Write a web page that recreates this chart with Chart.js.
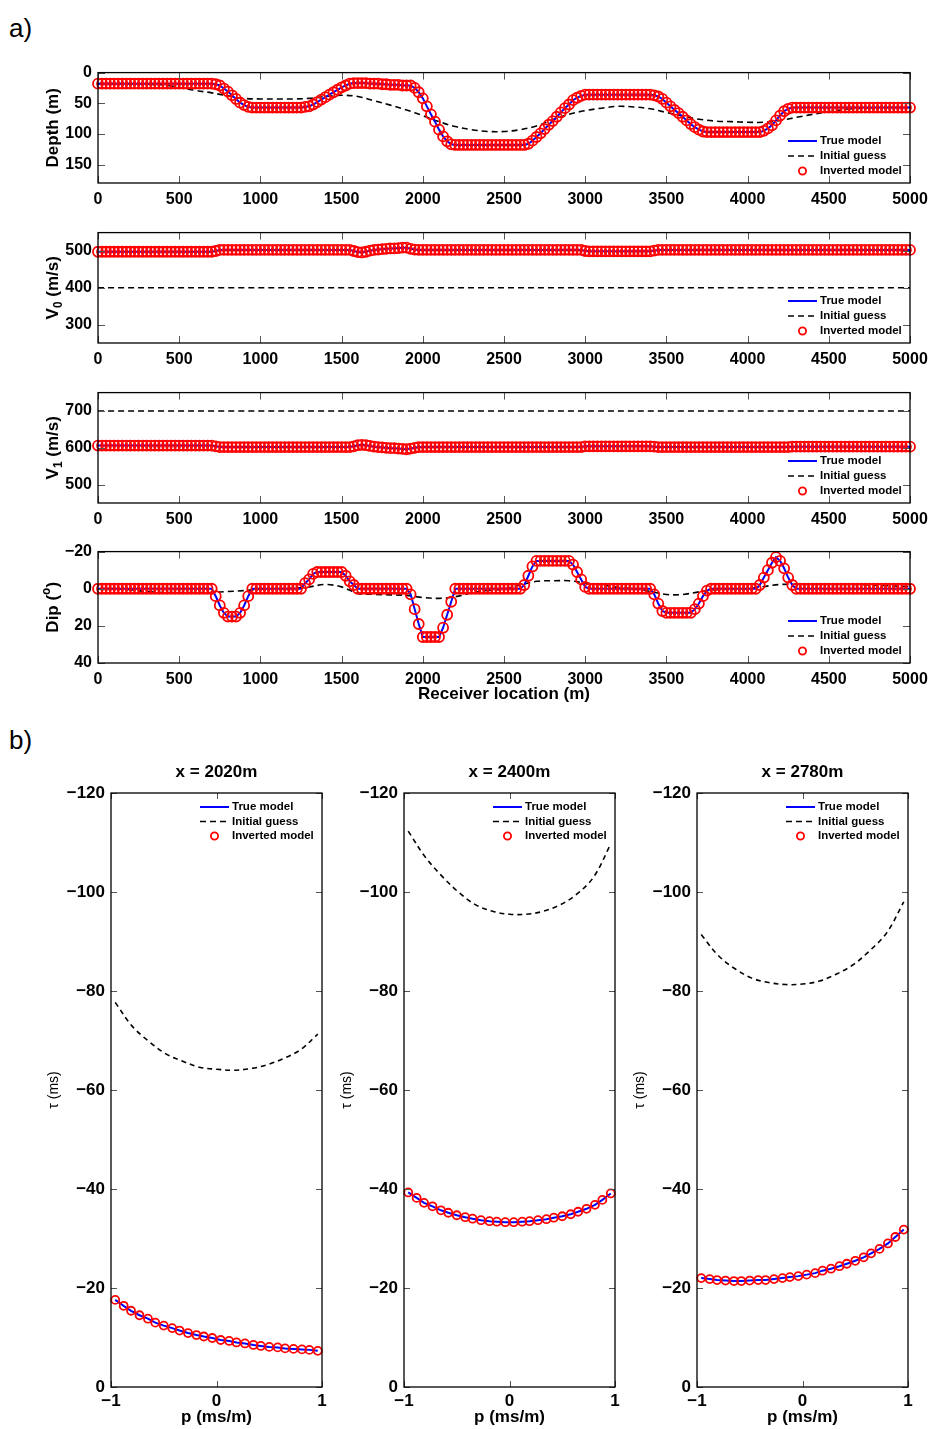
<!DOCTYPE html>
<html>
<head>
<meta charset="utf-8">
<title>Inversion results</title>
<script src="https://cdn.jsdelivr.net/npm/chart.js@4.4.0/dist/chart.umd.min.js"></script>
<style>
  body { margin: 0; background: #fff; }
  #figure { position: relative; width: 932px; height: 1429px; font-family: 'Liberation Sans', Arial, sans-serif; }
  #figure canvas { position: absolute; }
  .tag { position: absolute; font-size: 26px; line-height: 26px; color: #000; }
</style>
</head>
<body>
<div id="figure">
  <div class="tag" style="left:9px;top:15px">a)</div>
  <div class="tag" style="left:9px;top:727px">b)</div>
  <canvas id="depthChart" width="932" height="156" style="left:0;top:57px"></canvas>
  <canvas id="v0Chart" width="932" height="156" style="left:0;top:217px"></canvas>
  <canvas id="v1Chart" width="932" height="156" style="left:0;top:377px"></canvas>
  <canvas id="dipChart" width="932" height="172" style="left:0;top:536px"></canvas>
  <canvas id="tauChart1" width="293" height="671" style="left:41px;top:758px"></canvas>
  <canvas id="tauChart2" width="293" height="671" style="left:334px;top:758px"></canvas>
  <canvas id="tauChart3" width="293" height="671" style="left:627px;top:758px"></canvas>
</div>
<script>
// =========================
// PROFILE DATA (receivers every 25 m)
// =========================

const receivers = [
  0,25,50,75,100,125,150,175,200,225,250,275,300,325,350,375,400,425,450,475,
  500,525,550,575,600,625,650,675,700,725,750,775,800,825,850,875,900,925,950,975,
  1000,1025,1050,1075,1100,1125,1150,1175,1200,1225,1250,1275,1300,1325,1350,1375,1400,1425,1450,1475,
  1500,1525,1550,1575,1600,1625,1650,1675,1700,1725,1750,1775,1800,1825,1850,1875,1900,1925,1950,1975,
  2000,2025,2050,2075,2100,2125,2150,2175,2200,2225,2250,2275,2300,2325,2350,2375,2400,2425,2450,2475,
  2500,2525,2550,2575,2600,2625,2650,2675,2700,2725,2750,2775,2800,2825,2850,2875,2900,2925,2950,2975,
  3000,3025,3050,3075,3100,3125,3150,3175,3200,3225,3250,3275,3300,3325,3350,3375,3400,3425,3450,3475,
  3500,3525,3550,3575,3600,3625,3650,3675,3700,3725,3750,3775,3800,3825,3850,3875,3900,3925,3950,3975,
  4000,4025,4050,4075,4100,4125,4150,4175,4200,4225,4250,4275,4300,4325,4350,4375,4400,4425,4450,4475,
  4500,4525,4550,4575,4600,4625,4650,4675,4700,4725,4750,4775,4800,4825,4850,4875,4900,4925,4950,4975,
  5000
];

// depth of the layer (m)
const depthModel = [
  18,18,18,18,18,18,18,18,18,18,18,18,18,18,18,18,18,18,18,18,
  18,18,18,18,18,18,18,18,18,19,21,26,31,37,43,49,53,56,57,57,
  57,57,57,57,57,57,57,57,57,57,57,56,55,52,48,44,40,36,32,28,
  24,21,18,17,17,17,17,18,18,18,19,19,20,20,20,21,21,21,25,32,
  42,55,68,80,93,104,112,117,118,118,118,118,118,118,118,118,118,118,118,118,
  118,118,118,118,118,118,116,111,105,99,92,85,79,72,65,58,52,45,41,38,
  36,36,36,36,36,36,36,36,36,36,36,36,36,36,36,36,36,37,39,43,
  49,55,61,66,72,78,84,89,93,96,97,97,97,97,97,97,97,97,97,97,
  97,97,97,97,95,91,86,78,70,63,59,57,57,57,57,57,57,57,57,57,
  57,57,57,57,57,57,57,57,57,57,57,57,57,57,57,57,57,57,57,57,
  57
];

// V0 (m/s)
const v0Model = [
  498,498,498,498,498,498,498,498,498,498,498,498,498,498,498,498,498,498,498,498,
  498,498,498,498,498,498,498,498,498,500,503,503,503,503,503,503,503,503,503,503,
  503,503,503,503,503,503,503,503,503,503,503,503,503,503,503,503,503,503,503,503,
  503,503,503,500,497,496,498,501,503,504,505,506,507,507,508,509,509,506,504,503,
  503,503,503,503,503,503,503,503,503,503,503,503,503,503,503,503,503,503,503,503,
  503,503,503,503,503,503,503,503,503,503,503,503,503,503,503,503,503,503,503,503,
  500,499,499,499,499,499,499,499,499,499,499,499,499,499,499,499,499,501,503,503,
  503,503,503,503,503,503,503,503,503,503,503,503,503,503,503,503,503,503,503,503,
  503,503,503,503,503,503,503,503,503,503,503,503,503,503,503,503,503,503,503,503,
  503,503,503,503,503,503,503,503,503,503,503,503,503,503,503,503,503,503,503,503,
  503
];

// V1 (m/s)
const v1Model = [
  606,606,606,606,606,606,606,606,606,606,606,606,606,606,606,606,606,606,606,606,
  606,606,606,606,606,606,606,606,606,604,602,602,602,602,602,602,602,602,602,602,
  602,602,602,602,602,602,602,602,602,602,602,602,602,602,602,602,602,602,602,602,
  602,602,602,604,607,608,607,605,603,602,601,600,599,599,598,597,596,598,600,602,
  602,602,602,602,602,602,602,602,602,602,602,602,602,602,602,602,602,602,602,602,
  602,602,602,602,602,602,602,602,602,602,602,602,602,602,602,602,602,602,602,602,
  604,604,604,604,604,604,604,604,604,604,604,604,604,604,604,604,604,603,602,602,
  602,602,602,602,602,602,602,602,602,602,602,602,602,602,602,602,602,602,602,602,
  602,602,602,602,602,602,602,602,602,602,602,603,603,603,603,603,603,603,603,603,
  603,603,603,603,603,603,603,603,603,603,603,603,603,603,603,603,603,603,603,603,
  603
];

// dip (degrees)
const dipModel = [
  0,0,0,0,0,0,0,0,0,0,0,0,0,0,0,0,0,0,0,0,
  0,0,0,0,0,0,0,0,0,4,9,13,15,15,15,13,9,4,0,0,
  0,0,0,0,0,0,0,0,0,0,0,-3,-5,-8,-9,-9,-9,-9,-9,-9,
  -9,-7,-4,-2,0,0,0,0,0,0,0,0,0,0,0,0,0,3,11,19,
  26,26,26,26,26,21,14,7,0,0,0,0,0,0,0,0,0,0,0,0,
  0,0,0,0,0,-2,-7,-12,-15,-15,-15,-15,-15,-15,-15,-15,-15,-13,-9,-5,
  -1,0,0,0,0,0,0,0,0,0,0,0,0,0,0,0,0,3,8,12,
  13,13,13,13,13,13,13,11,8,4,1,0,0,0,0,0,0,0,0,0,
  0,0,0,-2,-6,-10,-14,-17,-15,-11,-6,-2,0,0,0,0,0,0,0,0,
  0,0,0,0,0,0,0,0,0,0,0,0,0,0,0,0,0,0,0,0,
  0
];

// starting model, sampled every 100 m
const guessX = [
  0,100,200,300,400,500,600,700,800,900,
  1000,1100,1200,1300,1400,1500,1600,1700,1800,1900,
  2000,2100,2200,2300,2400,2500,2600,2700,2800,2900,
  3000,3100,3200,3300,3400,3500,3600,3700,3800,3900,
  4000,4100,4200,4300,4400,4500,4600,4700,4800,4900,
  5000
];

const depthGuess = [
  18,18,18,19,20,24,29,33,38,42,
  43,43,43,42,39,37,39,46,53,61,
  70,80,88,93,96,96,93,87,77,68,
  62,58,55,56,59,65,71,76,79,80,
  81,81,78,73,68,64,60,58,57,57,
  57
];

const dipGuess = [
  0,0,0.5,1.5,2,2,2,2,1.5,1,
  0.3,0,-0.3,-1,-2.3,-1,2.5,3,3.3,3.6,
  4.7,5.2,4.3,2.3,0.9,0.2,-2,-4,-4.3,-4.3,
  -3.1,-2.1,-0.7,0,1.4,3.1,3.1,1.7,0.5,0,
  0,-1.2,-2.3,-2.4,-2.3,-2.3,-2.3,-2.2,-1.8,-1.5,
  -1.2
];

const constGuessX = [0, 5000];
const v0Guess = [400, 400];
const v1Guess = [700, 700];

const receiverTicks = [0,500,1000,1500,2000,2500,3000,3500,4000,4500,5000];
const depthTicks = [0,50,100,150];
const v0Ticks = [300,400,500];
const v1Ticks = [500,600,700];
const dipTicks = [-20,0,20,40];

// =========================
// TAU-P DATA
// =========================

const slowness = [
  -0.96,-0.88,-0.81,-0.73,-0.65,-0.58,-0.50,-0.42,-0.35,-0.27,-0.19,-0.12,-0.04,
  0.04,0.12,0.19,0.27,0.35,0.42,0.50,0.58,0.65,0.73,0.81,0.88,0.96
];

const tau2020 = [
  -17.6,-16.4,-15.4,-14.5,-13.8,-13.0,-12.4,-11.9,-11.4,-10.9,-10.5,-10.2,-9.9,
  -9.5,-9.3,-9.0,-8.8,-8.5,-8.3,-8.1,-8.0,-7.8,-7.7,-7.6,-7.5,-7.3
];
const tau2400 = [
  -39.3,-38.2,-37.2,-36.5,-35.7,-35.2,-34.7,-34.3,-34.0,-33.7,-33.5,-33.4,-33.3,
  -33.3,-33.4,-33.5,-33.7,-33.9,-34.2,-34.5,-34.9,-35.4,-36.0,-36.8,-37.8,-39.1
];
const tau2780 = [
  -22.0,-21.8,-21.6,-21.5,-21.4,-21.4,-21.5,-21.6,-21.6,-21.8,-22.0,-22.2,-22.4,
  -22.7,-23.0,-23.5,-23.9,-24.4,-24.9,-25.5,-26.2,-27.0,-27.9,-29.0,-30.3,-31.8
];

const slownessGuess = [-0.96,-0.8,-0.64,-0.48,-0.32,-0.16,0,0.16,0.32,0.48,0.64,0.8,0.96];
const guess2020 = [-77.7,-72.9,-69.8,-67.3,-65.8,-64.6,-64.2,-64.0,-64.3,-65.1,-66.4,-68.2,-71.3];
const guess2400 = [-112.3,-107.1,-103.2,-99.9,-97.4,-96.1,-95.5,-95.5,-96.1,-97.4,-99.6,-103.1,-109.7];
const guess2780 = [-91.4,-87.2,-84.5,-82.6,-81.7,-81.3,-81.4,-82.0,-83.4,-85.3,-88.2,-91.8,-98.0];

const slownessTicks = [-1,0,1];
const tauTicks = [-120,-100,-80,-60,-40,-20,0];

const legendLabels = ['True model', 'Initial guess', 'Inverted model'];

// =========================
// HELPERS
// =========================

const FONT = "'Liberation Sans', Arial, Helvetica, sans-serif";

const pairs = (xs, ys) => xs.map((x, i) => ({ x: x, y: ys[i] }));

const minus = v => (v < 0 ? '\u2212' + Math.abs(v) : String(v));

// text made of pieces, some of them sub- or superscript
function drawParts(ctx, parts, size, weight) {
    let total = 0;
    parts.forEach(p => {
        p.size = (p.sub || p.sup) ? size * 0.7 : size;
        ctx.font = weight + ' ' + p.size + 'px ' + FONT;
        p.w = ctx.measureText(p.t).width;
        total += p.w;
    });
    let x = -total / 2;
    parts.forEach(p => {
        ctx.font = weight + ' ' + p.size + 'px ' + FONT;
        const dy = p.sub ? size * 0.32 : (p.sup ? -size * 0.38 : 0);
        ctx.fillText(p.t, x, dy);
        x += p.w;
    });
}

// =========================
// FRAME / LABELS / LEGEND PLUGIN
// =========================

const framePlugin = {
    id: 'frame',
    afterDraw(chart, args, opts) {
        const { ctx, chartArea: a } = chart;
        const sx = chart.scales.x;
        const sy = chart.scales.y;

        ctx.save();

        // tick marks pointing inside, on all four sides
        ctx.strokeStyle = '#555';
        ctx.lineWidth = 1;
        ctx.beginPath();
        sx.ticks.forEach(t => {
            const px = Math.round(sx.getPixelForValue(t.value)) + 0.5;
            ctx.moveTo(px, a.bottom); ctx.lineTo(px, a.bottom - opts.tickLen);
            ctx.moveTo(px, a.top); ctx.lineTo(px, a.top + opts.tickLen);
        });
        sy.ticks.forEach(t => {
            const py = Math.round(sy.getPixelForValue(t.value)) + 0.5;
            ctx.moveTo(a.left, py); ctx.lineTo(a.left + opts.tickLen, py);
            ctx.moveTo(a.right, py); ctx.lineTo(a.right - opts.tickLen, py);
        });
        ctx.stroke();

        // box
        ctx.strokeStyle = '#000';
        ctx.lineWidth = 1.3;
        ctx.strokeRect(a.left, a.top, a.right - a.left, a.bottom - a.top);

        ctx.fillStyle = '#000';
        ctx.textBaseline = 'middle';

        // y title, rotated
        if (opts.yTitle) {
            ctx.save();
            ctx.translate(a.left + opts.yTitleDx, (a.top + a.bottom) / 2);
            ctx.rotate(-Math.PI / 2);
            ctx.textAlign = 'left';
            drawParts(ctx, opts.yTitle, opts.yTitleSize, opts.yTitleWeight);
            ctx.restore();
        }

        ctx.textAlign = 'center';

        if (opts.xTitle) {
            ctx.font = 'bold ' + opts.xTitleSize + 'px ' + FONT;
            ctx.fillText(opts.xTitle, (a.left + a.right) / 2, a.bottom + opts.xTitleDy);
        }

        if (opts.title) {
            ctx.font = 'bold 17px ' + FONT;
            ctx.fillText(opts.title, (a.left + a.right) / 2, a.top + opts.titleDy);
        }

        // legend
        const L = opts.legend;
        const x0 = L.fromRight ? a.right - L.dx : a.left + L.dx;
        const y0 = L.fromBottom ? a.bottom - L.dy : a.top + L.dy;

        ctx.lineWidth = 2;
        ctx.strokeStyle = '#0000ff';
        ctx.beginPath();
        ctx.moveTo(x0, y0); ctx.lineTo(x0 + 29, y0);
        ctx.stroke();

        ctx.lineWidth = 1.6;
        ctx.strokeStyle = '#000';
        ctx.setLineDash([6, 4]);
        ctx.beginPath();
        ctx.moveTo(x0, y0 + L.step); ctx.lineTo(x0 + 29, y0 + L.step);
        ctx.stroke();
        ctx.setLineDash([]);

        ctx.lineWidth = 1.8;
        ctx.strokeStyle = '#ff0000';
        ctx.beginPath();
        ctx.arc(x0 + 14.5, y0 + 2 * L.step, 3.6, 0, Math.PI * 2);
        ctx.stroke();

        ctx.font = 'bold 11.5px ' + FONT;
        ctx.textAlign = 'left';
        legendLabels.forEach((s, i) => {
            ctx.fillText(s, x0 + 32, y0 + i * L.step);
        });

        ctx.restore();
    }
};

// =========================
// CHART BUILDER
// =========================

function makeChart(id, o) {

    const tickFont = { family: FONT, size: o.tickSize, weight: 'bold' };

    return new Chart(document.getElementById(id), {

        type: 'line',

        data: {
            datasets: [
                {
                    label: legendLabels[2],
                    data: pairs(o.x, o.y),
                    showLine: false,
                    pointStyle: 'circle',
                    pointRadius: o.r,
                    pointBorderWidth: o.rw,
                    pointBorderColor: '#ff0000',
                    pointBackgroundColor: 'rgba(0,0,0,0)',
                    clip: false,
                    order: 0
                },
                {
                    label: legendLabels[0],
                    data: pairs(o.x, o.y),
                    borderColor: '#0000ff',
                    borderWidth: 2,
                    pointRadius: 0,
                    order: 1
                },
                {
                    label: legendLabels[1],
                    data: pairs(o.gx, o.gy),
                    borderColor: '#000000',
                    borderWidth: 1.6,
                    borderDash: o.dash,
                    pointRadius: 0,
                    tension: 0.35,
                    order: 2
                }
            ]
        },

        options: {
            responsive: false,
            animation: false,
            events: [],
            layout: { padding: { top: o.padTop, right: o.padRight, bottom: 0, left: 0 } },
            plugins: {
                legend: { display: false },
                tooltip: { enabled: false },
                frame: o.frame
            },
            scales: {
                x: {
                    type: 'linear',
                    min: o.xMin,
                    max: o.xMax,
                    grid: { display: false, drawTicks: false },
                    border: { display: false },
                    afterBuildTicks: s => { s.ticks = o.xTicks.map(v => ({ value: v })); },
                    afterFit: s => {
                        s.height = o.xh;
                        // the last label may hang into the right margin
                        s.paddingRight = Math.min(s.paddingRight, o.padRight);
                    },
                    ticks: {
                        font: tickFont, color: '#000', padding: o.xPad,
                        maxRotation: 0, autoSkip: false, callback: v => minus(v)
                    }
                },
                y: {
                    type: 'linear',
                    min: o.yMin,
                    max: o.yMax,
                    reverse: o.reverse,
                    grid: { display: false, drawTicks: false },
                    border: { display: false },
                    afterBuildTicks: s => { s.ticks = o.yTicks.map(v => ({ value: v })); },
                    afterFit: s => { s.width = o.yw; },
                    ticks: {
                        font: tickFont, color: '#000', padding: 6,
                        autoSkip: false, callback: v => minus(v)
                    }
                }
            }
        },

        plugins: [framePlugin]
    });
}

// =========================
// a) PROFILES ALONG THE LINE
// =========================

const profileLegend = { fromRight: true, dx: 122, fromBottom: true, dy: 42, step: 15 };

function profile(id, y, gx, gy, yMin, yMax, yTicks, reverse, yTitle, extra) {
    const frame = Object.assign({
        tickLen: 7,
        yTitle: yTitle, yTitleDx: -45, yTitleSize: 17, yTitleWeight: 'bold',
        legend: profileLegend
    }, extra || {});
    return makeChart(id, {
        x: receivers, y: y, gx: gx, gy: gy, dash: [6, 4],
        r: 5, rw: 1.8, tickSize: 16,
        xMin: 0, xMax: 5000, xTicks: receiverTicks,
        yMin: yMin, yMax: yMax, yTicks: yTicks, reverse: reverse,
        padTop: 12, padRight: 22, xh: (extra && extra.xTitle) ? 45 : 30, yw: 98, xPad: 7,
        frame: frame
    });
}

profile('depthChart', depthModel, guessX, depthGuess, 0, 180, depthTicks, true,
    [{ t: 'Depth (m)' }]);

profile('v0Chart', v0Model, constGuessX, v0Guess, 250, 550, v0Ticks, false,
    [{ t: 'V' }, { t: '0', sub: true }, { t: ' (m/s)' }]);

profile('v1Chart', v1Model, constGuessX, v1Guess, 450, 750, v1Ticks, false,
    [{ t: 'V' }, { t: '1', sub: true }, { t: ' (m/s)' }]);

profile('dipChart', dipModel, guessX, dipGuess, -20, 40, dipTicks, true,
    [{ t: 'Dip (' }, { t: 'o', sup: true }, { t: ')' }],
    { xTitle: 'Receiver location (m)', xTitleDy: 31, xTitleSize: 17 });

// =========================
// b) TAU-P CURVES AT THREE RECEIVERS
// =========================

const tauLegend = { fromRight: false, dx: 89, fromBottom: false, dy: 14, step: 14.5 };

function tauPanel(id, tau, guess, title) {
    return makeChart(id, {
        x: slowness, y: tau, gx: slownessGuess, gy: guess, dash: [5, 4],
        r: 4, rw: 1.8, tickSize: 17,
        xMin: -1, xMax: 1, xTicks: slownessTicks,
        yMin: -120, yMax: 0, yTicks: tauTicks, reverse: true,
        padTop: 35, padRight: 12, xh: 42, yw: 70, xPad: 4,
        frame: {
            tickLen: 6,
            yTitle: [{ t: '\u03c4 (ms)' }], yTitleDx: -57, yTitleSize: 14, yTitleWeight: 'normal',
            xTitle: 'p (ms/m)', xTitleDy: 30, xTitleSize: 17,
            title: title, titleDy: -21,
            legend: tauLegend
        }
    });
}

tauPanel('tauChart1', tau2020, guess2020, 'x = 2020m');
tauPanel('tauChart2', tau2400, guess2400, 'x = 2400m');
tauPanel('tauChart3', tau2780, guess2780, 'x = 2780m');
</script>
</body>
</html>
